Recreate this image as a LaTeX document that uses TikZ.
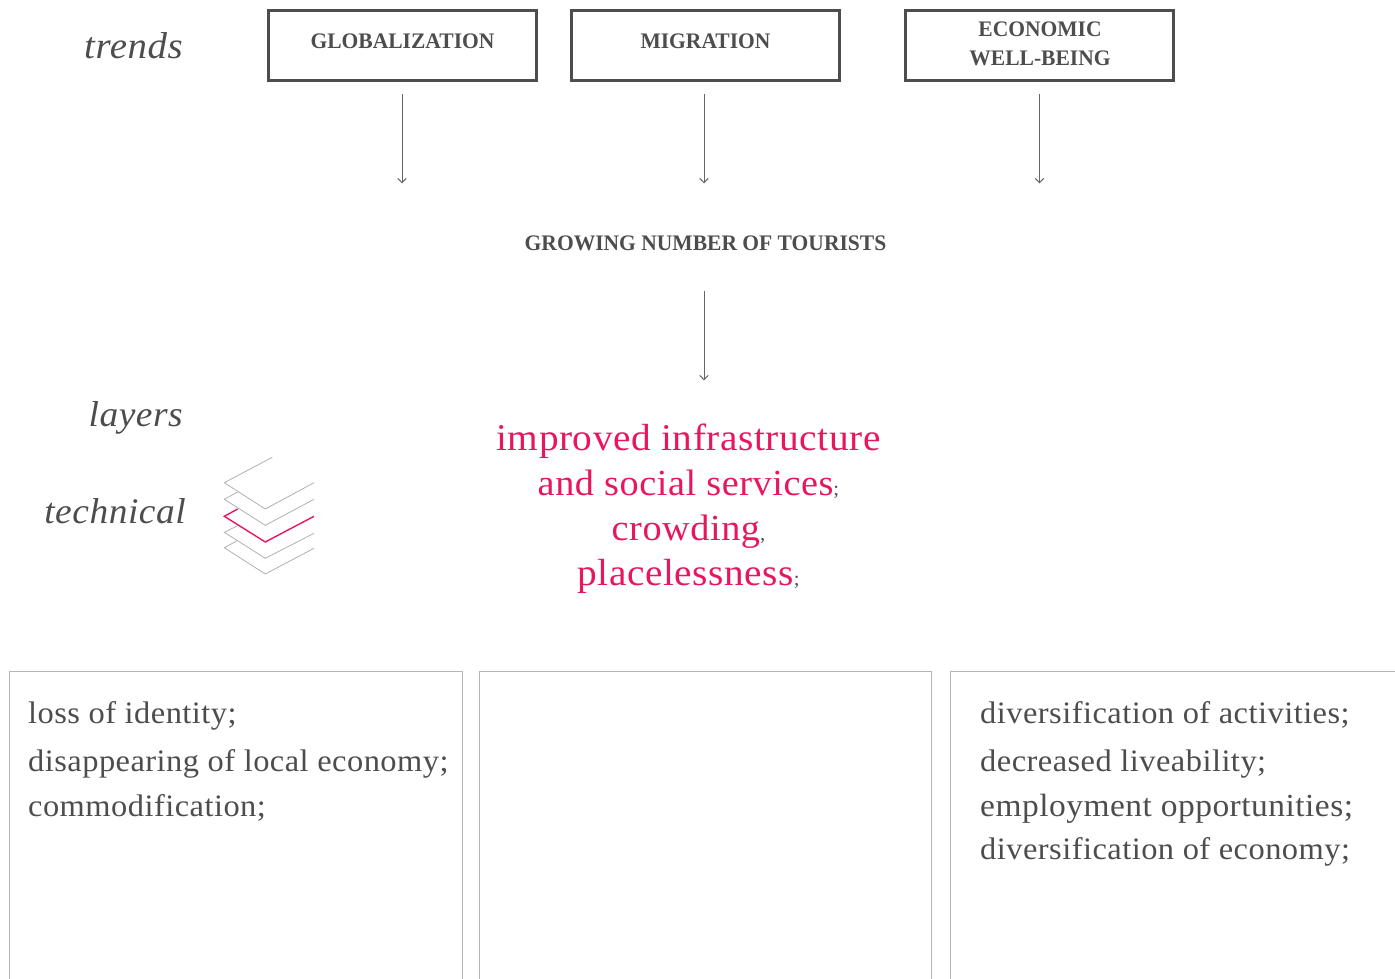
\documentclass[tikz,border=0pt]{standalone}
\usepackage{fontspec}
\setmainfont{Liberation Serif}
\newfontfamily\bodyf[FakeStretch=1.04,LetterSpace=1.5]{Liberation Serif}
\newfontfamily\headf[FakeStretch=0.97]{Liberation Serif}
\usetikzlibrary{arrows.meta}
\definecolor{ink}{HTML}{4D4D4D}
\definecolor{rose}{HTML}{E8175D}
\definecolor{frameg}{HTML}{B3B3B3}
\definecolor{layerg}{HTML}{B0B0B0}
\definecolor{arrowg}{HTML}{666666}
\tikzset{
 x=1pt,y=-1pt,
 trendbox/.style={draw=ink,line width=3.6pt,minimum width=268pt,minimum height=70pt,inner sep=0pt},
 headtxt/.style={text=ink,font=\headf\bfseries\fontsize{22.2}{29}\selectfont,align=center,inner sep=0pt},
 sidetxt/.style={text=ink,font=\bodyf\itshape\fontsize{36}{40}\selectfont,inner sep=0pt,anchor=base east},
 hottxt/.style={text=rose,font=\bodyf\fontsize{37.8}{45}\selectfont,inner sep=0pt,anchor=base},
 listtxt/.style={text=ink,font=\bodyf\fontsize{31.2}{36}\selectfont,inner sep=0pt,anchor=base west},
 flow/.style={draw=arrowg,line width=1pt,-{Straight Barb[length=4.5pt,width=8.5pt]}},
 frame/.style={draw=frameg,line width=1.2pt},
 layer/.style={draw=layerg,line width=0.8pt,line join=miter},
 hotlayer/.style={draw=rose,line width=1.4pt,line join=miter}
}
\newcommand{\pn}[1]{{\color{ink}\fontsize{20}{20}\selectfont #1}}
\begin{document}
\begin{tikzpicture}
\useasboundingbox (0,0) rectangle (1395,979);
% trend boxes
\node[trendbox] (glob) at (402.5,45.5) {};
\node[trendbox] (migr) at (705.5,45.5) {};
\node[trendbox] (econ) at (1039.5,45.5) {};
\node[headtxt,anchor=base] (globt) at (402.5,49) {GLOBALIZATION};
\node[headtxt,anchor=base] (migrt) at (705.5,49) {MIGRATION};
\node[headtxt,anchor=center] (econt) at (1040,43.5) {ECONOMIC\\WELL-BEING};
\node[headtxt,anchor=base] (grow) at (705.5,250) {GROWING NUMBER OF TOURISTS};
% side labels
\node[sidetxt] (trends) at (183,59) {\fontsize{37.4}{40}\selectfont trends};
\node[sidetxt] (layers) at (183,426) {layers};
\node[sidetxt] (tech) at (186,523.5) {technical};
% arrow ends
\coordinate (a1) at (402,183.5);
\coordinate (a2) at (704,183.5);
\coordinate (a3) at (1039.5,183.5);
\coordinate (a4) at (704,380.5);
\coordinate (s1) at (402,94);
\coordinate (s2) at (704,94);
\coordinate (s3) at (1039.5,94);
\coordinate (s4) at (704,291);
\draw[flow] (s1) -- (a1);
\draw[flow] (s2) -- (a2);
\draw[flow] (s3) -- (a3);
\draw[flow] (s4) -- (a4);
% hot text
\node[hottxt] (h1) at (688.5,450) {improved infrastructure};
\node[hottxt] (h2) at (688.5,495) {\fontsize{36.8}{45}\selectfont and social services\pn{;}};
\node[hottxt] (h3) at (688.5,540) {\fontsize{36.8}{45}\selectfont crowding\pn{,}};
\node[hottxt] (h4) at (688.5,585) {placelessness\pn{;}};
% layers icon
\draw[layer] (272.3,457.3) -- (224.3,482.7) -- (265.3,509) -- (314,482.7);
\draw[layer] (237.7,492) -- (224.3,499.3) -- (265.3,525.3) -- (314,499.3);
\draw[layer] (237.7,525.7) -- (224.3,532.3) -- (265.3,558.3) -- (314,533.3);
\draw[layer] (236.7,541) -- (224.3,547.7) -- (265.3,574) -- (314,548.3);
\draw[hotlayer] (237.7,509) -- (224.3,516.3) -- (265.3,542) -- (314,516.3);
% bottom frames
\draw[frame] (9.5,979) -- (9.5,671.5) -- (462.5,671.5) -- (462.5,979);
\draw[frame] (479.5,979) -- (479.5,671.5) -- (931.5,671.5) -- (931.5,979);
\draw[frame] (950.5,979) -- (950.5,671.5) -- (1395,671.5);
% lists
\node[listtxt] (l1) at (28,723) {loss of identity;};
\node[listtxt] (l2) at (28,771) {disappearing of local economy;};
\node[listtxt] (l3) at (28,816) {commodification;};
\node[listtxt] (r1) at (980,723) {diversification of activities;};
\node[listtxt] (r2) at (980,771) {decreased liveability;};
\node[listtxt] (r3) at (980,816) {\fontsize{32.2}{36}\selectfont employment opportunities;};
\node[listtxt] (r4) at (980,859) {diversification of economy;};
\end{tikzpicture}
\end{document}
